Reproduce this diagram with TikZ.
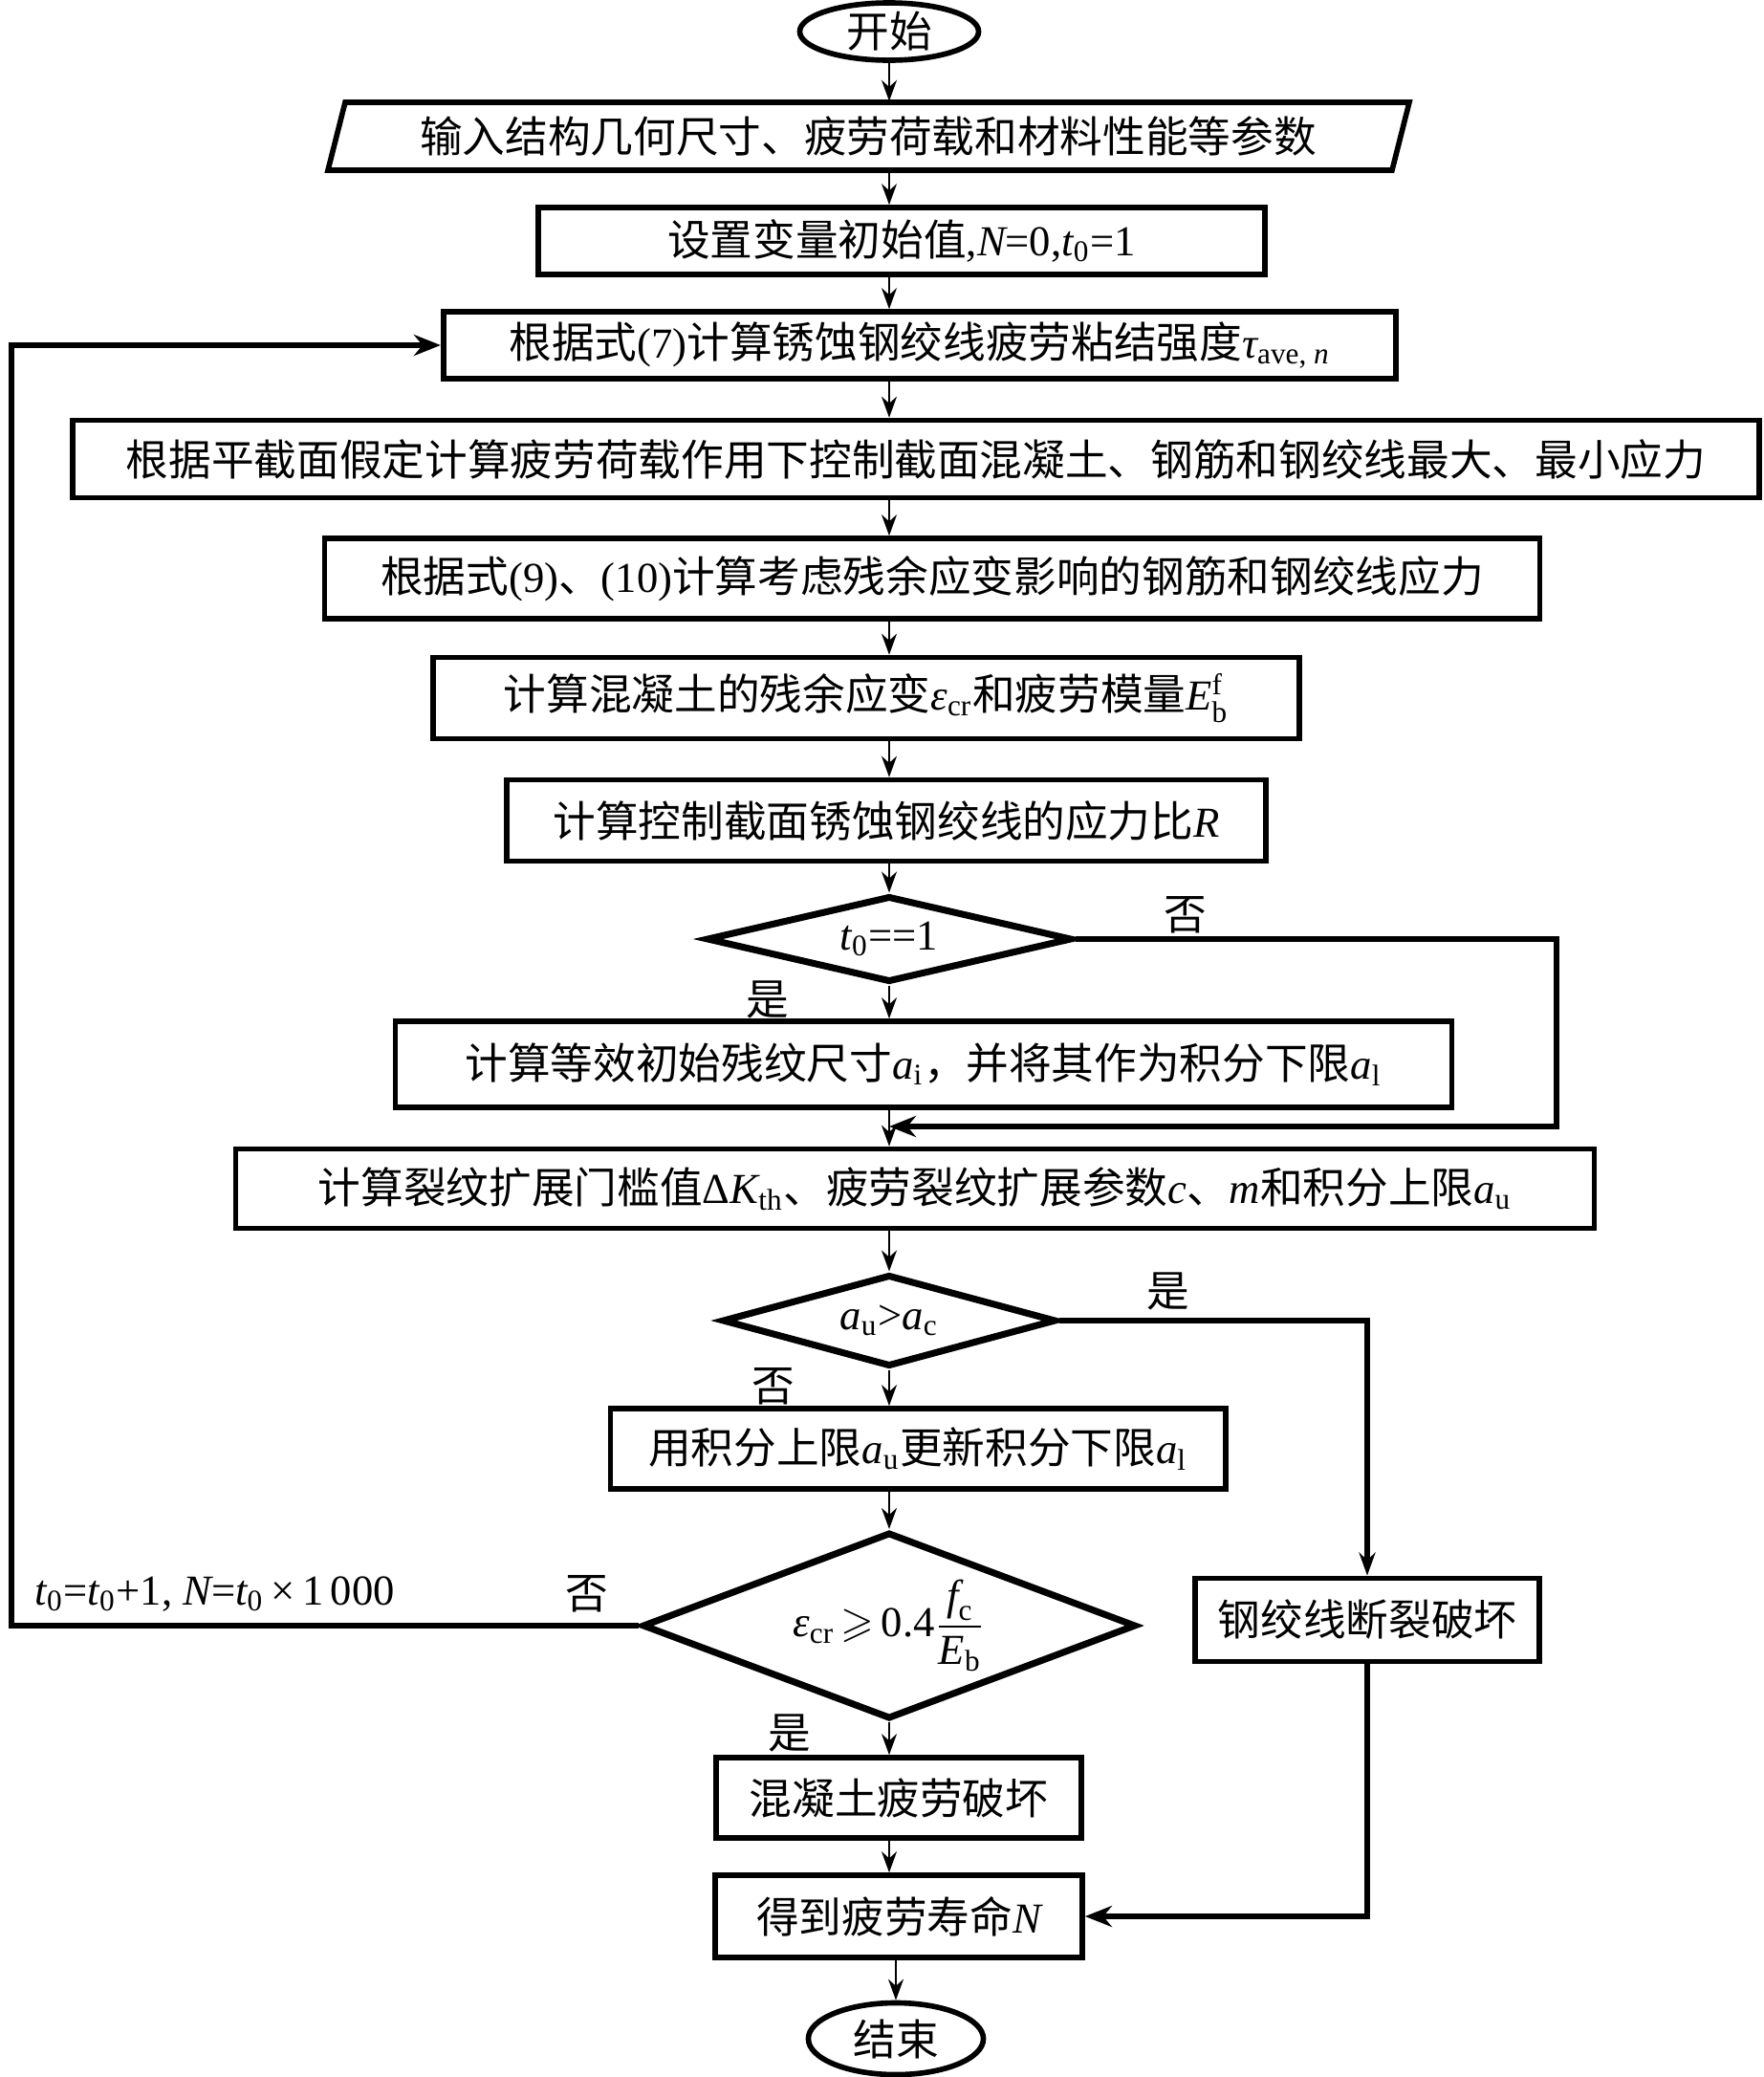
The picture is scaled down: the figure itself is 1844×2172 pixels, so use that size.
\documentclass[tikz,border=0pt]{standalone}
\usepackage{amsmath,amssymb}
\usepackage{fontspec}
\setmainfont{Liberation Serif}
\newfontfamily\cjk{Noto Sans CJK SC}
\usetikzlibrary{shapes.geometric,arrows.meta}
\newcommand\vi[1]{{\rmfamily\itshape #1}}
\newcommand\rmt[1]{{\rmfamily #1}}
\newcommand\sbs[1]{\textsubscript{\rmfamily\upshape #1}}
\begin{document}
\begin{tikzpicture}[x=0.01cm,y=-0.01cm,
  font=\cjk\fontsize{12.7}{15}\selectfont,
  box/.style={draw,line width=1.6pt,rectangle,inner sep=0pt},
  dia/.style={draw,line width=2pt,diamond,inner sep=0pt},
  term/.style={draw,line width=1.6pt,ellipse,inner sep=0pt},
  txt/.style={inner sep=0pt},
  arr/.style={line width=0.6pt,-{Stealth[length=0.22cm,width=0.16cm]}},
  arrb/.style={line width=1.6pt,-{Stealth[length=0.28cm,width=0.22cm]}},
  ln/.style={line width=1.6pt}
]
\useasboundingbox (0,0) rectangle (1844,2172);

% nodes
\node[term,minimum width=1.87cm,minimum height=0.6cm] (start) at (930,33) {开始};
\draw[line width=1.6pt] (343,178) -- (361,107) -- (1474,107) -- (1456,178) -- cycle;
\node[txt,minimum width=11.0cm,minimum height=0.71cm] (input) at (908,142) {输入结构几何尺寸、疲劳荷载和材料性能等参数};
\node[box,minimum width=7.6cm,minimum height=0.7cm] (b2) at (943,252) {设置变量初始值\rmt{,}\vi{N}\rmt{=0,}\vi{t}\sbs{0}\rmt{=1}};
\node[box,minimum width=9.96cm,minimum height=0.7cm] (b3) at (962,361) {根据式\rmt{(7)}计算锈蚀钢绞线疲劳粘结强度\vi{τ}\sbs{ave, \vi{n}}};
\node[box,minimum width=17.63cm,minimum height=0.81cm] (b4) at (958,480) {根据平截面假定计算疲劳荷载作用下控制截面混凝土、钢筋和钢绞线最大、最小应力};
\node[box,minimum width=12.7cm,minimum height=0.84cm] (b5) at (975,605) {根据式\rmt{(9)}、\rmt{(10)}计算考虑残余应变影响的钢筋和钢绞线应力};
\node[box,minimum width=9.05cm,minimum height=0.85cm] (b6) at (906,730) {计算混凝土的残余应变\vi{ε}\sbs{cr}和疲劳模量\rmt{\vi{E}$^{\text{f}}_{\text{b}}$}};
\node[box,minimum width=7.94cm,minimum height=0.85cm] (b7) at (927,858) {计算控制截面锈蚀钢绞线的应力比\vi{R}};
\node[dia,minimum width=3.82cm,minimum height=0.9cm] (d1) at (930,982) {};
\node[txt] (d1t) at (d1) {\vi{t}\sbs{0}\rmt{==1}};
\node[box,minimum width=11.04cm,minimum height=0.9cm] (b8) at (966,1113) {计算等效初始残纹尺寸\vi{a}\sbs{i}，并将其作为积分下限\vi{a}\sbs{l}};
\node[box,minimum width=14.2cm,minimum height=0.83cm] (b9) at (957,1243) {计算裂纹扩展门槛值\rmt{Δ}\vi{K}\sbs{th}、疲劳裂纹扩展参数\vi{c}、\vi{m}和积分上限\vi{a}\sbs{u}};
\node[dia,minimum width=3.49cm,minimum height=0.96cm] (d2) at (930,1381) {};
\node[txt] (d2t) at (d2) {\vi{a}\sbs{u}\rmt{>}\vi{a}\sbs{c}};
\node[box,minimum width=6.43cm,minimum height=0.84cm] (b10) at (960,1515) {用积分上限\vi{a}\sbs{u}更新积分下限\vi{a}\sbs{l}};
\node[dia,minimum width=5.16cm,minimum height=1.95cm] (d3) at (930,1700) {};
\node[txt] (d3t) at (d3) {\rmt{\vi{ε}\sbs{cr}$\,\geqslant\,$0.4$\dfrac{\textit{f}_{\text{c}}}{\textit{E}_{\text{b}}}$}};
\node[box,minimum width=3.6cm,minimum height=0.87cm] (b11) at (1430,1694) {钢绞线断裂破坏};
\node[box,minimum width=3.82cm,minimum height=0.84cm] (b12) at (940,1880) {混凝土疲劳破坏};
\node[box,minimum width=3.84cm,minimum height=0.86cm] (b13) at (940,2004) {得到疲劳寿命\vi{N}};
\node[term,minimum width=1.83cm,minimum height=0.75cm] (end) at (937,2132) {结束};

% labels
\node[txt] (l1) at (1240,957) {否};
\node[txt] (l2) at (803,1045) {是};
\node[txt] (l3) at (1222,1350) {是};
\node[txt] (l4) at (809,1450) {否};
\node[txt] (l5) at (614,1667) {否};
\node[txt] (l6) at (826,1812) {是};
\node[txt,anchor=west] (l7) at (36,1667) {\rmt{\vi{t}\sbs{0}=\vi{t}\sbs{0}+1, \vi{N}=\vi{t}\sbs{0}\,×\,1\,000}};

% coordinates
\coordinate (r1) at (1628,1178);
\coordinate (m1) at (930,1178);
\coordinate (lp) at (12,1700);

% main connectors
\draw[arr] (start.south) -- (start.south |- input.north);
\draw[arr] (input.south -| start) -- (b2.north -| start);
\draw[arr] (b2.south -| start) -- (b3.north -| start);
\draw[arr] (b3.south -| start) -- (b4.north -| start);
\draw[arr] (b4.south -| start) -- (b5.north -| start);
\draw[arr] (b5.south -| start) -- (b6.north -| start);
\draw[arr] (b6.south -| start) -- (b7.north -| start);
\draw[arr] (b7.south -| start) -- (d1.north);
\draw[arr] (d1.south) -- (b8.north -| d1);
\draw[arr] (b8.south -| d1) -- (b9.north -| d1);
\draw[arrb] (d1.east) -| (r1) -- (m1);
\draw[arr] (b9.south -| d1) -- (d2.north);
\draw[arr] (d2.south) -- (b10.north -| d2);
\draw[ln,-{Stealth[length=0.24cm,width=0.17cm]}] (d2.east) -| (b11.north);
\draw[arr] (b10.south -| d2) -- (d3.north);
\draw[arrb] (d3.west) -- (lp) |- (b3.west);
\draw[arr] (d3.south) -- (b12.north -| d3);
\draw[arr] (b12.south -| d3) -- (b13.north -| d3);
\draw[arrb] (b11.south) |- (b13.east);
\draw[arr] (b13.south -| end) -- (end.north);
\end{tikzpicture}
\end{document}
